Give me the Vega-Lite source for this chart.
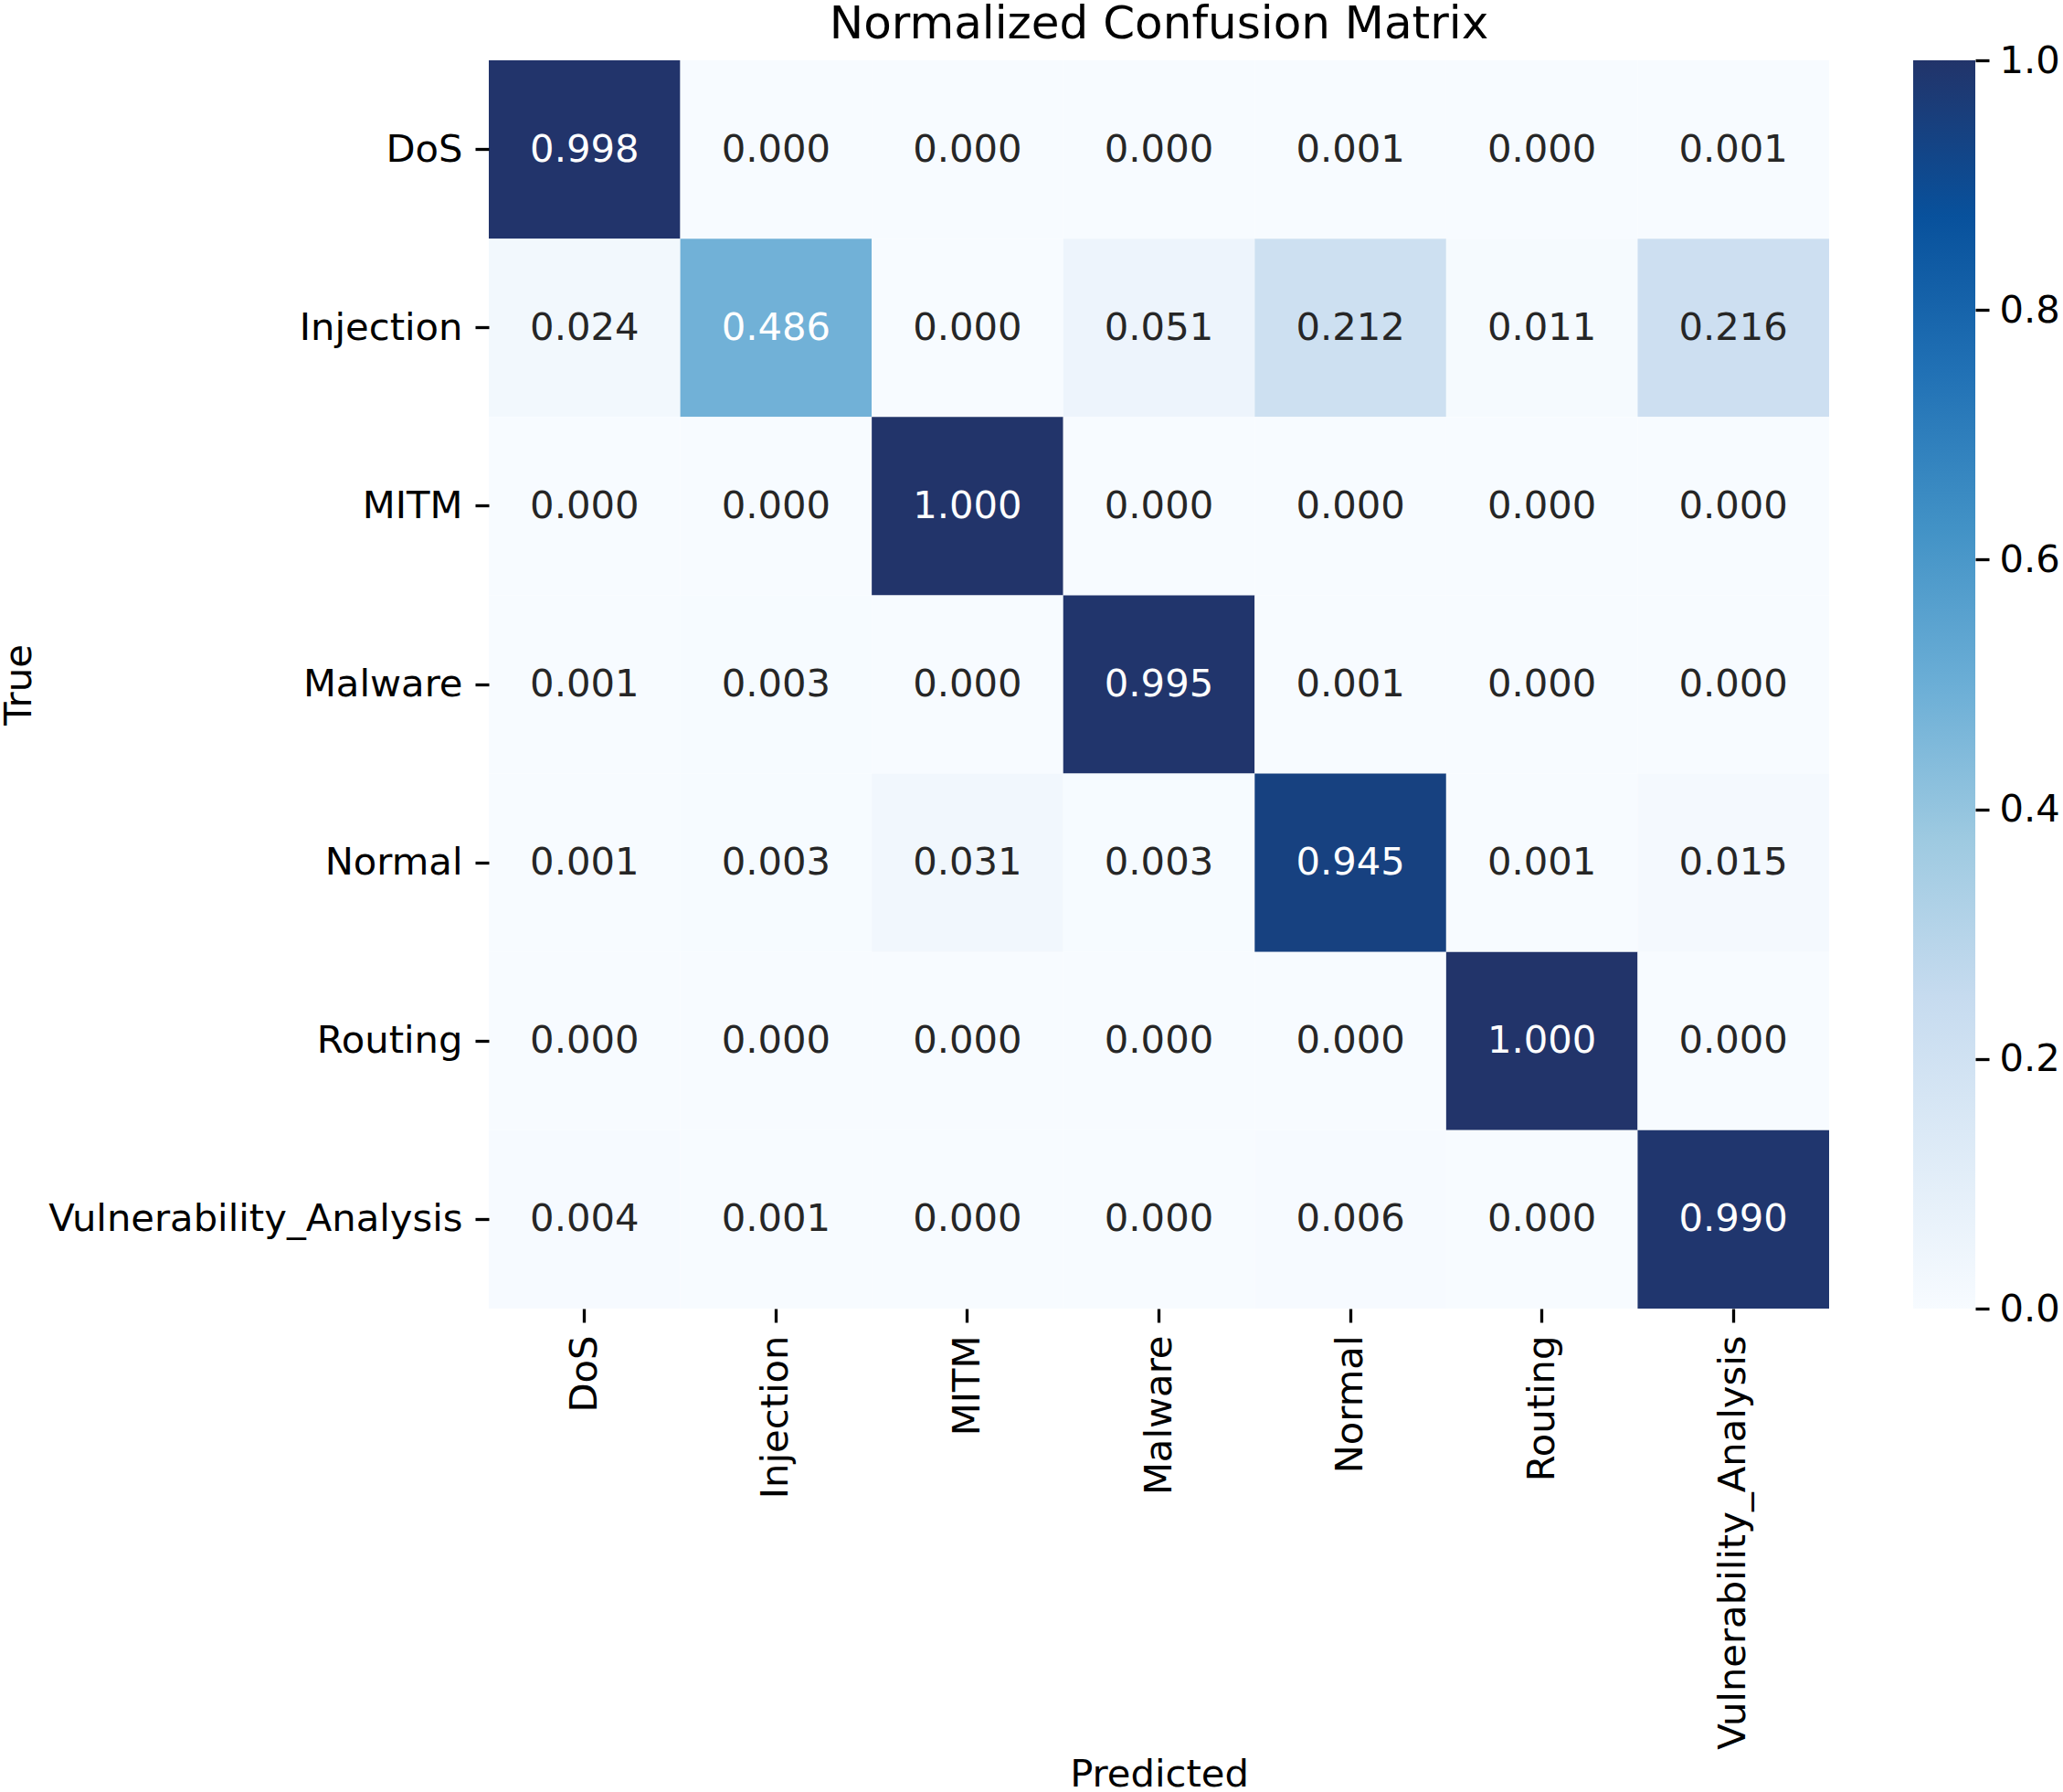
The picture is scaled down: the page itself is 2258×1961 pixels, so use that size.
{
  "$schema": "https://vega.github.io/schema/vega-lite/v6.json",
  "background": "white",
  "padding": {"left": 0, "top": 2, "right": 0, "bottom": 0},
  "config": {
    "font": "DejaVu Sans",
    "view": {"stroke": null},
    "axis": {"labelFont": "DejaVu Sans", "titleFont": "DejaVu Sans", "labelColor": "#000000", "titleColor": "#000000", "tickColor": "#000000", "labelLimit": 1000}
  },
  "spacing": 92,
  "bounds": "flush",
  "hconcat": [
    {
      "width": 1467,
      "height": 1366,
      "title": {"text": "Normalized Confusion Matrix", "fontSize": 50, "fontWeight": "normal", "color": "#000000", "baseline": "alphabetic", "offset": -26, "anchor": "middle", "frame": "group"},
      "data": {"values": [
        {"True": "DoS", "Predicted": "DoS", "v": 0.998},
        {"True": "DoS", "Predicted": "Injection", "v": 0.000},
        {"True": "DoS", "Predicted": "MITM", "v": 0.000},
        {"True": "DoS", "Predicted": "Malware", "v": 0.000},
        {"True": "DoS", "Predicted": "Normal", "v": 0.001},
        {"True": "DoS", "Predicted": "Routing", "v": 0.000},
        {"True": "DoS", "Predicted": "Vulnerability_Analysis", "v": 0.001},
        {"True": "Injection", "Predicted": "DoS", "v": 0.024},
        {"True": "Injection", "Predicted": "Injection", "v": 0.486},
        {"True": "Injection", "Predicted": "MITM", "v": 0.000},
        {"True": "Injection", "Predicted": "Malware", "v": 0.051},
        {"True": "Injection", "Predicted": "Normal", "v": 0.212},
        {"True": "Injection", "Predicted": "Routing", "v": 0.011},
        {"True": "Injection", "Predicted": "Vulnerability_Analysis", "v": 0.216},
        {"True": "MITM", "Predicted": "DoS", "v": 0.000},
        {"True": "MITM", "Predicted": "Injection", "v": 0.000},
        {"True": "MITM", "Predicted": "MITM", "v": 1.000},
        {"True": "MITM", "Predicted": "Malware", "v": 0.000},
        {"True": "MITM", "Predicted": "Normal", "v": 0.000},
        {"True": "MITM", "Predicted": "Routing", "v": 0.000},
        {"True": "MITM", "Predicted": "Vulnerability_Analysis", "v": 0.000},
        {"True": "Malware", "Predicted": "DoS", "v": 0.001},
        {"True": "Malware", "Predicted": "Injection", "v": 0.003},
        {"True": "Malware", "Predicted": "MITM", "v": 0.000},
        {"True": "Malware", "Predicted": "Malware", "v": 0.995},
        {"True": "Malware", "Predicted": "Normal", "v": 0.001},
        {"True": "Malware", "Predicted": "Routing", "v": 0.000},
        {"True": "Malware", "Predicted": "Vulnerability_Analysis", "v": 0.000},
        {"True": "Normal", "Predicted": "DoS", "v": 0.001},
        {"True": "Normal", "Predicted": "Injection", "v": 0.003},
        {"True": "Normal", "Predicted": "MITM", "v": 0.031},
        {"True": "Normal", "Predicted": "Malware", "v": 0.003},
        {"True": "Normal", "Predicted": "Normal", "v": 0.945},
        {"True": "Normal", "Predicted": "Routing", "v": 0.001},
        {"True": "Normal", "Predicted": "Vulnerability_Analysis", "v": 0.015},
        {"True": "Routing", "Predicted": "DoS", "v": 0.000},
        {"True": "Routing", "Predicted": "Injection", "v": 0.000},
        {"True": "Routing", "Predicted": "MITM", "v": 0.000},
        {"True": "Routing", "Predicted": "Malware", "v": 0.000},
        {"True": "Routing", "Predicted": "Normal", "v": 0.000},
        {"True": "Routing", "Predicted": "Routing", "v": 1.000},
        {"True": "Routing", "Predicted": "Vulnerability_Analysis", "v": 0.000},
        {"True": "Vulnerability_Analysis", "Predicted": "DoS", "v": 0.004},
        {"True": "Vulnerability_Analysis", "Predicted": "Injection", "v": 0.001},
        {"True": "Vulnerability_Analysis", "Predicted": "MITM", "v": 0.000},
        {"True": "Vulnerability_Analysis", "Predicted": "Malware", "v": 0.000},
        {"True": "Vulnerability_Analysis", "Predicted": "Normal", "v": 0.006},
        {"True": "Vulnerability_Analysis", "Predicted": "Routing", "v": 0.000},
        {"True": "Vulnerability_Analysis", "Predicted": "Vulnerability_Analysis", "v": 0.990}
      ]},
      "encoding": {
        "x": {"field": "Predicted", "type": "nominal",
              "sort": ["DoS", "Injection", "MITM", "Malware", "Normal", "Routing", "Vulnerability_Analysis"],
              "scale": {"paddingInner": 0, "paddingOuter": 0},
              "axis": {"labelAngle": 270, "labelFontSize": 41.7, "titleFontSize": 41.7, "titleFontWeight": "normal", "tickSize": 15, "tickWidth": 3.3, "labelPadding": 14, "titlePadding": 289, "domain": false, "grid": false, "labelLimit": 1000}},
        "y": {"field": "True", "type": "nominal",
              "sort": ["DoS", "Injection", "MITM", "Malware", "Normal", "Routing", "Vulnerability_Analysis"],
              "scale": {"paddingInner": 0, "paddingOuter": 0},
              "axis": {"labelFontSize": 41.7, "titleFontSize": 41.7, "titleFontWeight": "normal", "tickSize": 15, "tickWidth": 3.3, "labelPadding": 14, "titlePadding": 293, "domain": false, "grid": false, "labelLimit": 1000}}
      },
      "layer": [
        {
          "mark": {"type": "rect", "strokeWidth": 0},
          "encoding": {
            "color": {"field": "v", "type": "quantitative", "legend": null,
                      "scale": {"domain": [0, 0.125, 0.25, 0.375, 0.5, 0.625, 0.75, 0.875, 1],
                                "range": ["#f7fbff", "#deebf7", "#c6dbef", "#9ecae1", "#6baed6", "#4292c6", "#2171b5", "#08519c", "#22346a"],
                                "interpolate": "rgb"}}
          }
        },
        {
          "mark": {"type": "text", "fontSize": 41.7, "font": "DejaVu Sans"},
          "encoding": {
            "text": {"field": "v", "type": "quantitative", "format": ".3f"},
            "color": {"condition": {"test": "datum.v > 0.45", "value": "#ffffff"}, "value": "#262626"}
          }
        }
      ]
    },
    {
      "width": 68,
      "height": 1366,
      "data": {"values": [{"lo": 0, "hi": 1}]},
      "mark": {"type": "rect", "strokeWidth": 0,
               "fill": {"gradient": "linear", "x1": 0, "y1": 1, "x2": 0, "y2": 0,
                        "stops": [
                          {"offset": 0, "color": "#f7fbff"},
                          {"offset": 0.125, "color": "#deebf7"},
                          {"offset": 0.25, "color": "#c6dbef"},
                          {"offset": 0.375, "color": "#9ecae1"},
                          {"offset": 0.5, "color": "#6baed6"},
                          {"offset": 0.625, "color": "#4292c6"},
                          {"offset": 0.75, "color": "#2171b5"},
                          {"offset": 0.875, "color": "#08519c"},
                          {"offset": 1, "color": "#22346a"}
                        ]}},
      "encoding": {
        "y": {"field": "lo", "type": "quantitative",
              "scale": {"domain": [0, 1], "nice": false, "zero": false},
              "axis": {"orient": "right", "title": null, "values": [0, 0.2, 0.4, 0.6, 0.8, 1.0], "format": ".1f",
                       "labelFontSize": 41.7, "tickSize": 15, "tickWidth": 3.3, "labelPadding": 11,
                       "domain": false, "grid": false, "labelFlush": false, "labelBaseline": "middle"}},
        "y2": {"field": "hi"}
      }
    }
  ]
}
